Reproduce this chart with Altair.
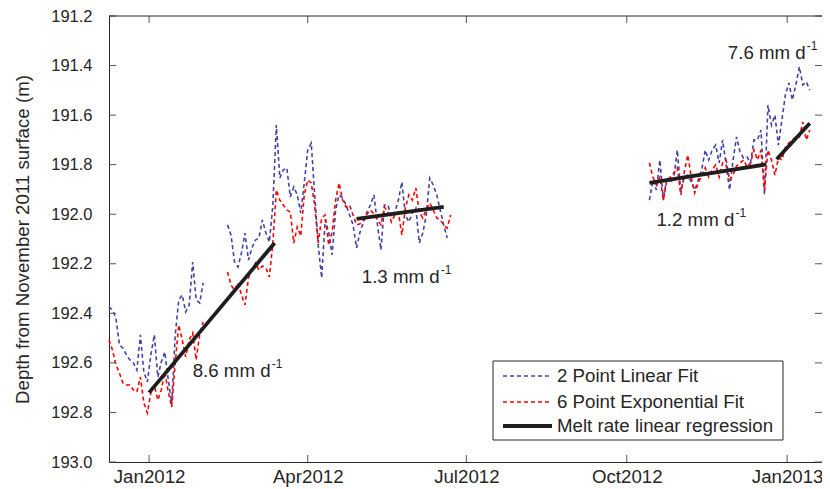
import altair as alt
import pandas as pd

FONT = "Liberation Sans"
TXT = "#262626"

# ---------------- data ----------------
# samples every 2 days; each segment given by its first date
seg_a_start = "2011-12-09"
blue_a = [192.374, 192.386, 192.419, 192.528, 192.540, 192.568, 192.588, 192.600, 192.629, 192.487,
          192.637, 192.677, 192.568, 192.487, 192.657, 192.596, 192.556, 192.669, 192.762, 192.487,
          192.346, 192.326, 192.394, 192.366, 192.193, 192.346, 192.358, 192.277]
red_a = [192.507, 192.548, 192.608, 192.641, 192.681, 192.689, 192.689, 192.709, 192.717, 192.657,
         192.762, 192.802, 192.721, 192.689, 192.750, 192.709, 192.637, 192.717, 192.778, 192.600,
         192.447, 192.507, 192.576, 192.507, 192.479, 192.588, 192.487, 192.435]

seg_b_start = "2012-02-15"
blue_b = [192.043, 192.084, 192.193, 192.213, 192.156, 192.076, 192.185, 192.136, 192.104, 192.096,
          192.023, 192.076, 192.112, 191.963, 191.640, 191.854, 191.821, 191.813, 191.930, 191.890,
          191.922, 191.995, 191.874, 191.741, 191.713, 191.922, 192.124, 192.257, 192.023, 192.072,
          192.164, 191.983, 191.922, 191.934, 191.963, 192.003, 192.043, 192.136, 192.072, 192.031,
          191.991, 191.963, 191.922, 192.043, 192.144, 191.963, 191.963, 192.011, 191.991, 191.943,
          191.870, 192.003, 192.031, 191.995, 191.975, 192.116, 192.076, 192.003, 191.854, 191.882,
          191.922, 191.983, 192.043, 192.096]
red_b = [192.233, 192.286, 192.306, 192.277, 192.326, 192.366, 192.257, 192.225, 192.197, 192.225,
         192.209, 192.217, 192.253, 192.116, 191.902, 191.943, 191.963, 191.983, 191.991, 192.116,
         192.051, 192.088, 191.922, 191.862, 191.874, 191.963, 192.116, 192.015, 192.003, 192.124,
         192.072, 191.943, 191.874, 191.943, 191.971, 191.963, 192.003, 192.043, 192.039, 192.023,
         191.999, 191.983, 191.999, 192.023, 192.043, 191.971, 191.991, 192.031, 192.003, 191.991,
         192.084, 191.975, 191.922, 191.943, 191.894, 191.991, 192.015, 191.983, 191.955, 191.983,
         192.015, 192.023, 192.043, 192.056, 192.003]

seg_c_start = "2012-10-14"
blue_c = [191.943, 191.862, 191.902, 191.781, 191.943, 191.850, 191.874, 191.850, 191.741, 191.910,
          191.850, 191.842, 191.870, 191.902, 191.862, 191.821, 191.741, 191.781, 191.741, 191.721,
          191.793, 191.700, 191.801, 191.902, 191.781, 191.688, 191.749, 191.773, 191.769, 191.793,
          191.700, 191.700, 191.660, 191.922, 191.559, 191.640, 191.600, 191.721, 191.620, 191.519,
          191.470, 191.539, 191.478, 191.405, 191.478, 191.466, 191.499]
red_c = [191.793, 191.850, 191.882, 191.850, 191.943, 191.862, 191.850, 191.834, 191.813, 191.922,
         191.830, 191.761, 191.850, 191.914, 191.874, 191.842, 191.813, 191.850, 191.821, 191.801,
         191.850, 191.793, 191.781, 191.862, 191.842, 191.805, 191.793, 191.781, 191.809, 191.793,
         191.741, 191.781, 191.741, 191.902, 191.741, 191.781, 191.842, 191.773, 191.781, 191.729,
         191.713, 191.700, 191.688, 191.688, 191.628, 191.700, 191.660]

# melt-rate regression segments (start/end)
reg_seg = ["r1", "r1", "r2", "r2", "r3", "r3", "r4", "r4"]
reg_dates = ["2012-01-01", "2012-03-13", "2012-04-29", "2012-06-18",
             "2012-10-14", "2012-12-20", "2012-12-26", "2013-01-14"]
reg_depth = [192.720, 192.116, 192.019, 191.970, 191.873, 191.799, 191.778, 191.633]

# annotations
ann_dates = ["2012-01-26", "2012-05-02", "2012-10-18", "2012-11-28"]
ann_depth = [192.632, 192.255, 192.025, 191.350]
ann_text = ["8.6 mm d", "1.3 mm d", "1.2 mm d", "7.6 mm d"]

x_tick_dates = ["2012-01-01", "2012-04-01", "2012-07-01", "2012-10-01", "2013-01-01"]
y_ticks = [191.2, 191.4, 191.6, 191.8, 192.0, 192.2, 192.4, 192.6, 192.8, 193.0]
legend_labels = ["2 Point Linear Fit", "6 Point Exponential Fit", "Melt rate linear regression"]
BLUE, RED, BLACK = "#4343a6", "#ff0000", "#1e1e1e"

W, H = 713, 446


def frame(start, values, seg):
    dates = pd.date_range(start, periods=len(values), freq="2D")
    return pd.DataFrame({"date": dates.strftime("%Y-%m-%d"), "depth": values, "seg": seg})


blue_df = pd.concat([frame(seg_a_start, blue_a, "a"), frame(seg_b_start, blue_b, "b"),
                     frame(seg_c_start, blue_c, "c")])
red_df = pd.concat([frame(seg_a_start, red_a, "a"), frame(seg_b_start, red_b, "b"),
                    frame(seg_c_start, red_c, "c")])
reg_df = pd.DataFrame({"date": reg_dates, "depth": reg_depth, "seg": reg_seg})
ann_df = pd.DataFrame({"date": ann_dates, "depth": ann_depth, "label": ann_text})
xt_df = pd.DataFrame({"date": x_tick_dates})
yt_df = pd.DataFrame({"depth": y_ticks})


def dt(s):
    y, m, d = (int(v) for v in s.split("-"))
    return alt.DateTime(year=y, month=m, date=d, utc=True)


X = alt.X("date:T",
          scale=alt.Scale(type="utc", domain=[dt("2011-12-09"), dt("2013-01-21")]),
          axis=alt.Axis(values=[dt(s) for s in x_tick_dates], format="%b%Y", tickSize=0,
                        labelPadding=5, labelFontSize=18.7, labelFont=FONT, labelColor=TXT,
                        domainColor=TXT, domainWidth=1, grid=False, title=None,
                        labelFlush=False, labelOverlap=False))
Y = alt.Y("depth:Q",
          scale=alt.Scale(domain=[191.2, 193.0], reverse=True, zero=False, nice=False),
          axis=alt.Axis(values=y_ticks, format=".1f", tickSize=0, labelPadding=17,
                        labelFontSize=16.5, labelFont=FONT,
                        labelColor=TXT, domainColor=TXT, domainWidth=1, grid=False,
                        title="Depth from November 2011 surface (m)", titleX=-87, titleY=223,
                        titleFontSize=18.7, titleFont=FONT, titleFontWeight="normal",
                        titleColor=TXT, titleAlign="center", titleBaseline="middle",
                        labelOverlap=False))

blue = alt.Chart(blue_df).mark_line(color=BLUE, strokeWidth=1.6, strokeDash=[4, 3]).encode(
    x=X, y=Y, detail="seg:N")
red = alt.Chart(red_df).mark_line(color=RED, strokeWidth=1.6, strokeDash=[4, 3]).encode(
    x=X, y=Y, detail="seg:N")
reg = alt.Chart(reg_df).mark_line(color=BLACK, strokeWidth=3.8).encode(x=X, y=Y, detail="seg:N")

ann = alt.Chart(ann_df).mark_text(align="left", baseline="middle", fontSize=18.7, font=FONT,
                                  color=TXT).encode(x=X, y=Y, text="label:N")
sup = alt.Chart(ann_df).mark_text(align="left", baseline="middle", fontSize=12, font=FONT,
                                  color=TXT, dx=79, dy=-7, text="-1").encode(x=X, y=Y)

# inward ticks (MATLAB style) and top frame line
tick_col = "#555555"
xt_bot = alt.Chart(xt_df).mark_rule(color=tick_col, strokeWidth=1).encode(
    x=X, y=alt.value(H - 7), y2=alt.value(H))
xt_top = alt.Chart(xt_df).mark_rule(color=tick_col, strokeWidth=1).encode(
    x=X, y=alt.value(0), y2=alt.value(7))
yt_left = alt.Chart(yt_df).mark_rule(color=tick_col, strokeWidth=1).encode(
    y=Y, x=alt.value(0), x2=alt.value(7))
yt_right = alt.Chart(yt_df).mark_rule(color=tick_col, strokeWidth=1).encode(
    y=Y, x=alt.value(W - 7), x2=alt.value(W))
one = pd.DataFrame({"k": [0]})
top_line = alt.Chart(one).mark_rule(color=TXT, strokeWidth=1).encode(
    x=alt.value(0), x2=alt.value(W), y=alt.value(0))

# legend box
lx0, lx1, ly0, ly1 = 384, 674, 345, 424
box = alt.Chart(one).mark_rect(fill="white", stroke=TXT, strokeWidth=1).encode(
    x=alt.value(lx0), x2=alt.value(lx1), y=alt.value(ly0), y2=alt.value(ly1))
rows_y = [360, 386, 410]
leg_styles = [(BLUE, 1.6, [4, 3]), (RED, 1.6, [4, 3]), (BLACK, 3.8, [1, 0])]
leg_layers = []
for lab, yy, (col, sw, dash) in zip(legend_labels, rows_y, leg_styles):
    leg_layers.append(alt.Chart(one).mark_rule(color=col, strokeWidth=sw, strokeDash=dash).encode(
        x=alt.value(394), x2=alt.value(443), y=alt.value(yy)))
    leg_layers.append(alt.Chart(one).mark_text(align="left", baseline="middle", fontSize=18.7,
                                               font=FONT, color=TXT, text=lab).encode(
        x=alt.value(448), y=alt.value(yy)))

chart = alt.layer(
    blue, red, reg, ann, sup, xt_bot, xt_top, yt_left, yt_right, top_line, box, *leg_layers
).properties(
    width=W, height=H,
    autosize=alt.AutoSizeParams(type="none"),
    padding={"left": 101, "top": 8, "right": 0, "bottom": 27},
    background="white",
).configure_view(stroke=None)

chart.save("out.html", embed_options={"renderer": "svg", "actions": False})
